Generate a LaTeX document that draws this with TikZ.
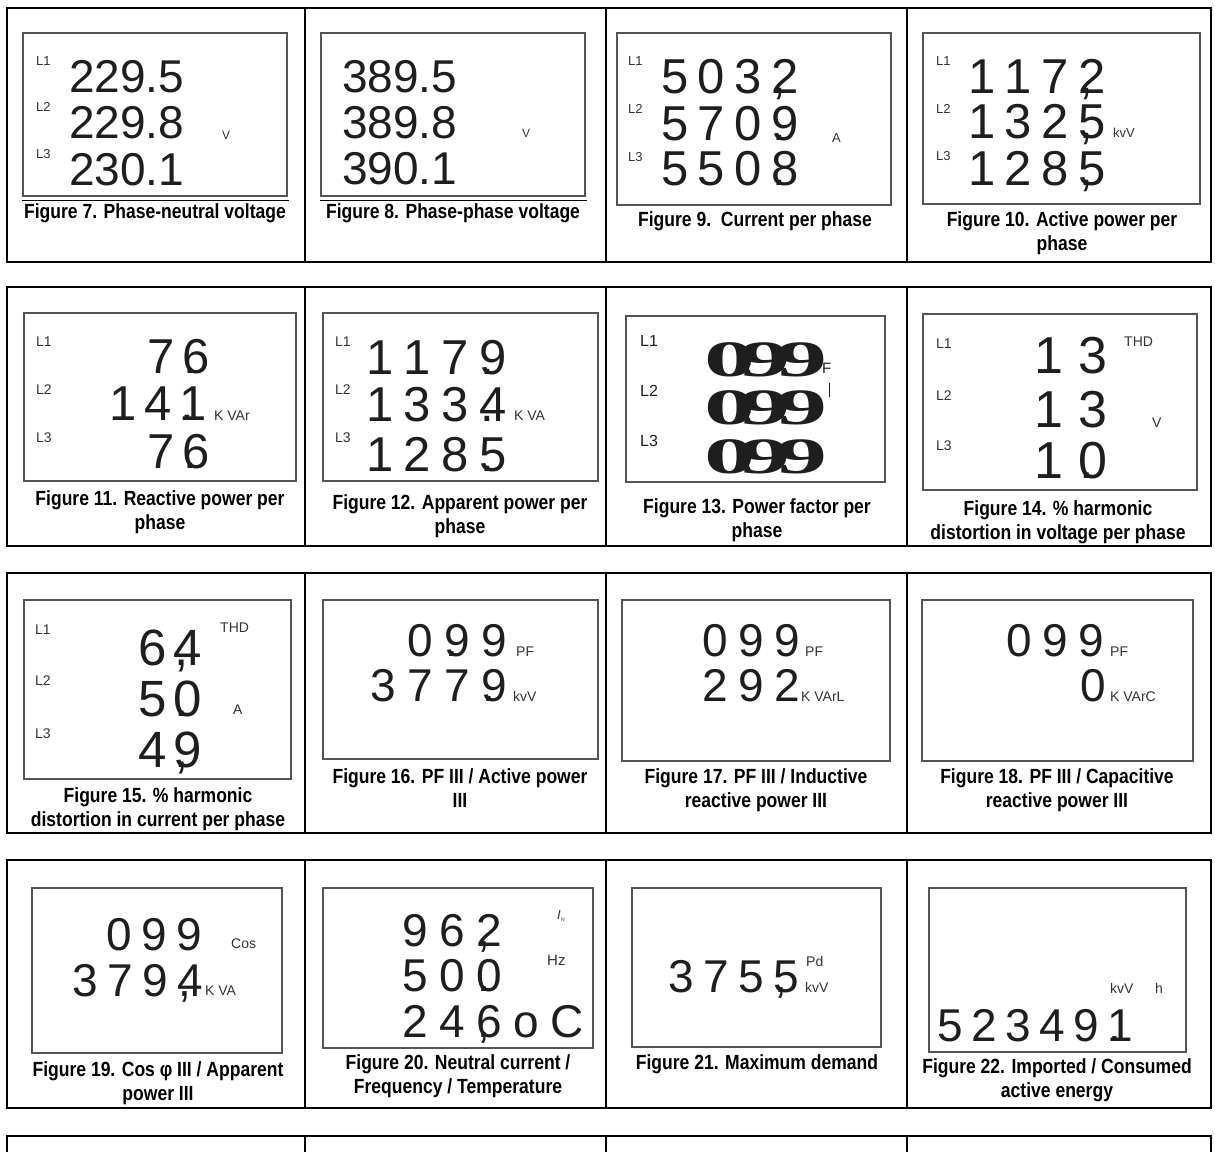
\documentclass[tikz,border=0pt]{standalone}
\usepackage{fontspec}
\setmainfont{Liberation Sans}
\newfontfamily\lcdfam{Liberation Sans}
\newfontfamily\capfam[FakeStretch=0.855]{Liberation Sans}
\newfontfamily\serfam{Liberation Serif}
\definecolor{digc}{HTML}{1E1E1E}
\definecolor{labc}{HTML}{333333}
\definecolor{boxc}{HTML}{555555}
\newdimen\lk
\newcommand\K{\kern\lk}
\newcommand\cm{\makebox[0pt][l]{\kern1pt,}}
\newcommand\pd{\makebox[0pt][l]{\kern1pt.}}
\newcommand\dfont[1]{\lcdfam\fontsize{#1}{#1}\selectfont}
\newcommand\sfont[1]{\lcdfam\fontsize{#1}{#1}\selectfont}
\tikzset{
  tblframe/.style={line width=2pt},
  tbldiv/.style={line width=1.5pt},
  lcdbox/.style={draw=boxc,line width=1.1pt},
  uline/.style={line width=0.9pt},
  dig/.style={anchor=base west,inner sep=0pt,text=digc},
  lsp/.style={execute at begin node={\lk=#1pt\relax}},
  lab/.style={anchor=base west,inner sep=0pt,text=labc,font=\sfont{13}},
  unit/.style={anchor=base west,inner sep=0pt,text=labc,font=\sfont{14}},
  figcap/.style={align=center,inner sep=0pt,font=\capfam\bfseries\fontsize{20.5}{24}\selectfont},
  blob/.style={anchor=base west,inner sep=0pt,text=digc,xscale=2.0,font=\serfam\bfseries\fontsize{51}{51}\selectfont},
}
\begin{document}
\begin{tikzpicture}[x=1pt,y=-1pt]
\useasboundingbox (0,0) rectangle (1215,1151);
% ---------- table frames ----------
\foreach \t/\b in {8/262,287/546,573/833,860/1108}{
  \draw[tblframe] (7,\t) rectangle (1211,\b);
  \foreach \c in {305,606,907}{\draw[tbldiv] (\c,\t) -- (\c,\b);}
}
\draw[tblframe] (7,1160) -- (7,1136) -- (1211,1136) -- (1211,1160);
\foreach \c in {305,606,907}{\draw[tbldiv] (\c,1136) -- (\c,1160);}

% ---------- Figure 7 ----------
\draw[lcdbox] (23,33) rectangle (287,196);
\draw[uline] (22,200) -- (289,200);
\node[lab] (f7l1) at (36,65) {L1};
\node[lab] (f7l2) at (36,111) {L2};
\node[lab] (f7l3) at (36,158) {L3};
\node[dig,font=\dfont{46}] (f7a) at (69,92) {229.5};
\node[dig,font=\dfont{46}] (f7b) at (69,138) {229.8};
\node[dig,font=\dfont{46}] (f7d) at (69,185) {230.1};
\node[unit,font=\sfont{12}] (f7u) at (222,139) {V};
\node[figcap] (f7c) at (155,213) {Figure 7. Phase-neutral voltage};

% ---------- Figure 8 ----------
\draw[lcdbox] (321,33) rectangle (585,196);
\draw[uline] (320,200) -- (587,200);
\node[dig,font=\dfont{46}] (f8a) at (342,92) {389.5};
\node[dig,font=\dfont{46}] (f8b) at (342,138) {389.8};
\node[dig,font=\dfont{46}] (f8d) at (342,184) {390.1};
\node[unit,font=\sfont{12}] (f8u) at (522,137) {V};
\node[figcap] (f8c) at (453,213) {Figure 8. Phase-phase voltage};

% ---------- Figure 9 ----------
\draw[lcdbox] (617,33) rectangle (891,205);
\node[lab] (f9l1) at (628,65) {L1};
\node[lab] (f9l2) at (628,113) {L2};
\node[lab] (f9l3) at (628,161) {L3};
\node[dig,lsp=9.5,font=\dfont{49}] (f9a) at (661,93) {5\K0\K3\K\cm2};
\node[dig,lsp=9.5,font=\dfont{49}] (f9b) at (661,140) {5\K7\K0\K\pd9};
\node[dig,lsp=9.5,font=\dfont{49}] (f9d) at (661,185) {5\K5\K0\K\pd8};
\node[unit,font=\sfont{13}] (f9u) at (832,142) {A};
\node[figcap] (f9c) at (755,221) {Figure 9.\ \ Current per phase};

% ---------- Figure 10 ----------
\draw[lcdbox] (923,33) rectangle (1200,204);
\node[lab] (f10l1) at (936,65) {L1};
\node[lab] (f10l2) at (936,113) {L2};
\node[lab] (f10l3) at (936,160) {L3};
\node[dig,lsp=9.5,font=\dfont{49}] (f10a) at (968,93) {1\K1\K7\K\cm2};
\node[dig,lsp=9.5,font=\dfont{49}] (f10b) at (968,138) {1\K3\K2\K\cm5};
\node[dig,lsp=9.5,font=\dfont{49}] (f10d) at (968,185) {1\K2\K8\K\cm5};
\node[unit,font=\sfont{13}] (f10u) at (1113,137) {kvV};
\node[figcap] (f10c) at (1062,233) {Figure 10. Active power per\\phase};

% ---------- Figure 11 ----------
\draw[lcdbox] (24,313) rectangle (296,481);
\node[lab,font=\sfont{14}] (f11l1) at (36,346) {L1};
\node[lab,font=\sfont{14}] (f11l2) at (36,394) {L2};
\node[lab,font=\sfont{14}] (f11l3) at (36,442) {L3};
\node[dig,lsp=8,font=\dfont{49}] (f11a) at (147,373) {7\K\pd6};
\node[dig,lsp=8,font=\dfont{49}] (f11b) at (109,420) {1\K4\K\pd1};
\node[dig,lsp=8,font=\dfont{49}] (f11d) at (147,468) {7\K\pd6};
\node[unit] (f11u) at (214,420) {K VAr};
\node[figcap] (f11c) at (160,512) {Figure 11. Reactive power per\\phase};

% ---------- Figure 12 ----------
\draw[lcdbox] (323,313) rectangle (598,481);
\node[lab,font=\sfont{14}] (f12l1) at (335,346) {L1};
\node[lab,font=\sfont{14}] (f12l2) at (335,394) {L2};
\node[lab,font=\sfont{14}] (f12l3) at (335,442) {L3};
\node[dig,lsp=10.5,font=\dfont{49}] (f12a) at (366,374) {1\K1\K7\K\pd9};
\node[dig,lsp=10.5,font=\dfont{49}] (f12b) at (366,421) {1\K3\K3\K\pd4};
\node[dig,lsp=10.5,font=\dfont{49}] (f12d) at (366,471) {1\K2\K8\K\pd5};
\node[unit] (f12u) at (514,420) {K VA};
\node[figcap] (f12c) at (460,516) {Figure 12. Apparent power per\\phase};

% ---------- Figure 13 ----------
\draw[lcdbox] (626,316) rectangle (885,482);
\node[lab,font=\sfont{16},text=digc] (f13l1) at (640,346) {L1};
\node[lab,font=\sfont{16},text=digc] (f13l2) at (640,396) {L2};
\node[lab,font=\sfont{16},text=digc] (f13l3) at (640,446) {L3};
\node[blob] (f13a) at (704,376) {0\kern-8pt9\kern-7pt9};
\node[blob] (f13b) at (704,424) {0\kern-8pt9\kern-7pt9};
\node[blob] (f13d) at (704,473) {0\kern-8pt9\kern-7pt9};
\node[unit,font=\sfont{15},text=digc] (f13u) at (812,373) {PF};
\draw[line width=1pt,digc] (829,383) -- (829,397);
\node[figcap] (f13c) at (757,520) {Figure 13. Power factor per\\phase};

% ---------- Figure 14 ----------
\draw[lcdbox] (923,314) rectangle (1197,490);
\node[lab,font=\sfont{14}] (f14l1) at (936,348) {L1};
\node[lab,font=\sfont{14}] (f14l2) at (936,400) {L2};
\node[lab,font=\sfont{14}] (f14l3) at (936,450) {L3};
\node[dig,lsp=15,font=\dfont{52}] (f14a) at (1034,373) {1\K3};
\node[dig,lsp=15,font=\dfont{52}] (f14b) at (1034,427) {1\K3};
\node[dig,lsp=15,font=\dfont{52}] (f14d) at (1034,478) {1\K\pd0};
\node[unit] (f14t) at (1124,346) {THD};
\node[unit] (f14u) at (1152,427) {V};
\node[figcap] (f14c) at (1058,522) {Figure 14. \% harmonic\\distortion in voltage per phase};

% ---------- Figure 15 ----------
\draw[lcdbox] (24,600) rectangle (291,779);
\node[lab,font=\sfont{14}] (f15l1) at (35,634) {L1};
\node[lab,font=\sfont{14}] (f15l2) at (35,685) {L2};
\node[lab,font=\sfont{14}] (f15l3) at (35,738) {L3};
\node[dig,lsp=7,font=\dfont{51}] (f15a) at (138,665) {6\K\cm4};
\node[dig,lsp=7,font=\dfont{51}] (f15b) at (138,716) {5\K\pd0};
\node[dig,lsp=7,font=\dfont{51}] (f15d) at (138,767) {4\K\cm9};
\node[unit] (f15t) at (220,632) {THD};
\node[unit] (f15u) at (233,714) {A};
\node[figcap] (f15c) at (158,809) {Figure 15. \% harmonic\\distortion in current per phase};

% ---------- Figure 16 ----------
\draw[lcdbox] (323,600) rectangle (598,759);
\node[dig,lsp=11.5,font=\dfont{46}] (f16a) at (407,656) {0\K\pd9\K9};
\node[dig,lsp=11.5,font=\dfont{46}] (f16b) at (370,701) {3\K7\K7\K\pd9};
\node[unit] (f16p) at (516,656) {PF};
\node[unit] (f16u) at (513,701) {kvV};
\node[figcap] (f16c) at (460,788) {Figure 16. PF III / Active power\\III};

% ---------- Figure 17 ----------
\draw[lcdbox] (622,600) rectangle (890,761);
\node[dig,lsp=10.5,font=\dfont{46}] (f17a) at (702,656) {0\K9\K9};
\node[dig,lsp=10.5,font=\dfont{46}] (f17b) at (702,701) {2\K9\K2};
\node[unit] (f17p) at (805,656) {PF};
\node[unit] (f17u) at (801,701) {K VArL};
\node[figcap] (f17c) at (756,790) {Figure 17. PF III / Inductive\\reactive power III};

% ---------- Figure 18 ----------
\draw[lcdbox] (922,600) rectangle (1193,761);
\node[dig,lsp=10.5,font=\dfont{46}] (f18a) at (1006,656) {0\K9\K9};
\node[dig,lsp=10.5,font=\dfont{46}] (f18b) at (1080,701) {0};
\node[unit] (f18p) at (1110,656) {PF};
\node[unit] (f18u) at (1110,701) {K VArC};
\node[figcap] (f18c) at (1057,790) {Figure 18. PF III / Capacitive\\reactive power III};

% ---------- Figure 19 ----------
\draw[lcdbox] (32,888) rectangle (282,1053);
\node[dig,lsp=9.5,font=\dfont{46}] (f19a) at (106,950) {0\K9\K9};
\node[dig,lsp=9.5,font=\dfont{46}] (f19b) at (72,996) {3\K7\K9\K\cm4};
\node[unit] (f19p) at (231,948) {Cos};
\node[unit] (f19u) at (205,995) {K VA};
\node[figcap] (f19c) at (158,1083) {Figure 19. Cos φ III / Apparent\\power III};

% ---------- Figure 20 ----------
\draw[lcdbox] (323,888) rectangle (593,1048);
\node[dig,lsp=11.5,font=\dfont{46}] (f20a) at (402,946) {9\K6\K\cm2};
\node[dig,lsp=11.5,font=\dfont{46}] (f20b) at (402,991) {5\K0\K\pd0};
\node[dig,lsp=11.5,font=\dfont{46}] (f20d) at (402,1037) {2\K4\K\cm6\K o\K C};
\node[unit,font=\sfont{13}] (f20i) at (557,919) {\itshape I\kern0.3pt\raisebox{-2pt}{\upshape\fontsize{5}{5}\selectfont N}};
\node[unit,font=\sfont{15}] (f20h) at (547,965) {Hz};
\node[figcap] (f20c) at (458,1076) {Figure 20. Neutral current /\\Frequency / Temperature};

% ---------- Figure 21 ----------
\draw[lcdbox] (632,888) rectangle (881,1047);
\node[dig,lsp=9.5,font=\dfont{46}] (f21a) at (668,992) {3\K7\K5\K\cm5};
\node[unit] (f21p) at (806,966) {Pd};
\node[unit] (f21u) at (805,992) {kvV};
\node[figcap] (f21c) at (757,1064) {Figure 21. Maximum demand};

% ---------- Figure 22 ----------
\draw[lcdbox] (929,888) rectangle (1186,1052);
\node[unit] (f22u) at (1110,993) {kvV};
\node[unit] (f22h) at (1155,993) {h};
\node[dig,lsp=8.5,font=\dfont{46}] (f22a) at (937,1041) {5\K2\K3\K4\K9\K\pd1};
\node[figcap] (f22c) at (1057,1080) {Figure 22. Imported / Consumed\\active energy};
\end{tikzpicture}
\end{document}
